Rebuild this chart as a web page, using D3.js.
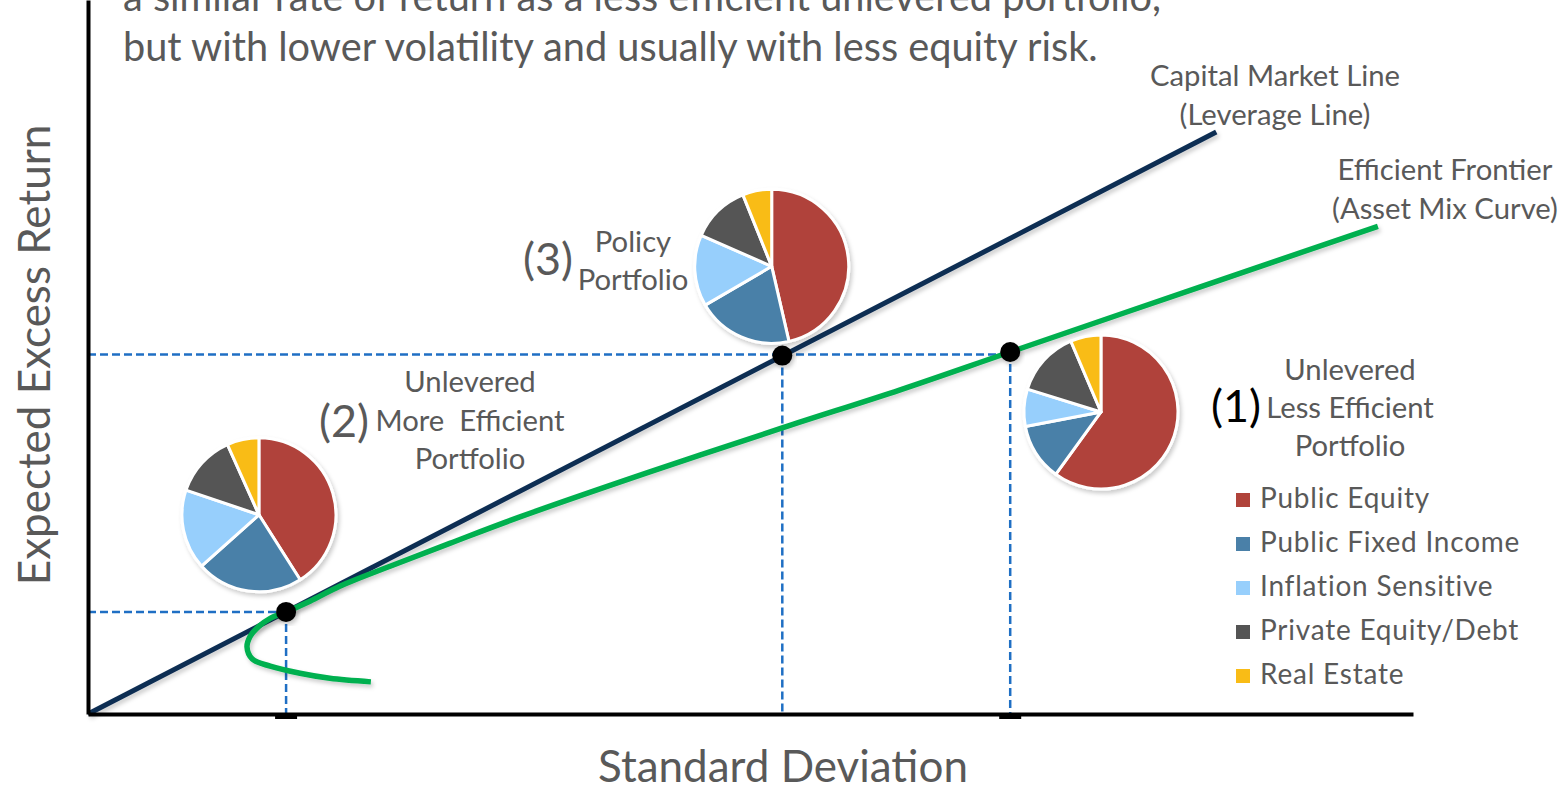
<!DOCTYPE html>
<html>
<head>
<meta charset="utf-8">
<script src="https://cdn.jsdelivr.net/npm/d3@7"></script>
<style>
	body { margin: 0; background: #fff; }
	svg { display: block; }
</style>
</head>
<body>
<svg id="chart" width="1562" height="787"></svg>
<script>
// asset classes and their colours
const categories = ["Public Equity", "Public Fixed Income", "Inflation Sensitive", "Private Equity/Debt", "Real Estate"];
const colors = ["#b0433a", "#4a80a8", "#97cffc", "#545454", "#f9bc16"];

// portfolios: (1) unlevered less efficient, (2) unlevered more efficient, (3) policy
const portfolioNames = ["(1)", "(2)", "(3)"];
const portfolioSd = [13.92, 2.99, 10.48];
const portfolioRet = [5.07, 1.43, 5.02];

// asset mix of each portfolio (%)
const mixLessEfficient = [60, 12, 7.8, 13.8, 6.4];
const mixMoreEfficient = [41, 22.4, 16.8, 13.1, 6.7];
const mixPolicy = [46.4, 20.2, 15, 12.3, 6.1];

// where each pie sits (same order as portfolios)
const pieSd = [15.29, 2.58, 10.32];
const pieRet = [4.23, 2.79, 6.27];

// efficient frontier (asset mix curve)
const frontierSd = [4.27, 3.65, 3.20, 2.75, 2.48, 2.40, 2.45, 2.57, 2.75, 2.99, 3.35, 3.80, 4.56, 5.46, 6.52, 8.48, 10.49, 12.26, 13.92, 16.78, 19.47];
const frontierRet = [0.45, 0.50, 0.57, 0.67, 0.77, 0.94, 1.09, 1.22, 1.34, 1.43, 1.58, 1.79, 2.07, 2.39, 2.76, 3.39, 4.01, 4.54, 5.07, 5.98, 6.83];

// capital market line (leverage line)
const cmlSd = [0, 17.03];
const cmlRet = [0, 8.15];

const headline = [
	"a similar rate of return as a less efficient unlevered portfolio,",
	"but with lower volatility and usually with less equity risk."
];

const FONT = "Lato, 'Open Sans', sans-serif";
const GREY = "#595959";

const svg = d3.select("#chart");

const x = d3.scaleLinear().domain([0, 20]).range([88, 1413]);
const y = d3.scaleLinear().domain([0, 10]).range([714, 0]);

// pick a font size so that a text comes out at the width it has in the picture
function fitSize(text, target, base) {
	base = base || 40;
	const t = svg.append("text").attr("font-family", FONT).attr("font-size", base).text(text);
	const w = t.node().getComputedTextLength();
	t.remove();
	return base * target / w;
}

const headSize = fitSize(headline[1], 975);
const titleSize = fitSize("Standard Deviation", 370);
const labelSize = fitSize("Capital Market Line", 250);
const numSize = fitSize("(3)", 50);
const legendSize = fitSize("Public Fixed Income", 245);

const defs = svg.append("defs");
const shadow = defs.append("filter").attr("id", "shadow")
	.attr("x", "-20%").attr("y", "-20%").attr("width", "140%").attr("height", "140%");
shadow.append("feDropShadow")
	.attr("dx", 2).attr("dy", 3).attr("stdDeviation", 2)
	.attr("flood-color", "#000").attr("flood-opacity", 0.2);

// headline text (top line is cut by the picture edge)
svg.append("g").selectAll("text")
	.data(headline).enter().append("text")
	.attr("x", 123)
	.attr("y", function (d, i) { return 11 + i * 50; })
	.attr("font-family", FONT)
	.attr("font-size", headSize)
	.attr("fill", GREY)
	.text(function (d) { return d; });

// dashed guide lines
const guides = svg.append("g")
	.attr("stroke", "#1f6fc4")
	.attr("stroke-width", 2.5)
	.attr("stroke-dasharray", "8,4")
	.attr("fill", "none");

guides.append("line")
	.attr("x1", x(0)).attr("x2", x(portfolioSd[1]))
	.attr("y1", y(portfolioRet[1])).attr("y2", y(portfolioRet[1]));
guides.append("line")
	.attr("x1", x(0)).attr("x2", x(portfolioSd[0]))
	.attr("y1", y(portfolioRet[2]) - 1).attr("y2", y(portfolioRet[2]) - 1);

guides.selectAll(".vguide")
	.data(portfolioSd).enter().append("line")
	.attr("class", "vguide")
	.attr("x1", function (d) { return x(d); })
	.attr("x2", function (d) { return x(d); })
	.attr("y1", function (d, i) { return y(portfolioRet[i]); })
	.attr("y2", y(0));

// capital market line
svg.append("line")
	.attr("x1", x(cmlSd[0])).attr("y1", y(cmlRet[0]))
	.attr("x2", x(cmlSd[1])).attr("y2", y(cmlRet[1]))
	.attr("stroke", "#0b2d52")
	.attr("stroke-width", 5)
	.attr("filter", "url(#shadow)");

// efficient frontier
const frontier = frontierSd.map(function (d, i) { return [d, frontierRet[i]]; });
svg.append("path")
	.datum(frontier)
	.attr("fill", "none")
	.attr("stroke", "#00b050")
	.attr("stroke-width", 5.5)
	.attr("stroke-linecap", "butt")
	.attr("filter", "url(#shadow)")
	.attr("d", d3.line()
		.x(function (d) { return x(d[0]); })
		.y(function (d) { return y(d[1]); })
		.curve(d3.curveCatmullRom.alpha(0.5)));

// portfolio dots
svg.append("g").selectAll("circle")
	.data(portfolioSd).enter().append("circle")
	.attr("cx", function (d) { return x(d); })
	.attr("cy", function (d, i) { return y(portfolioRet[i]); })
	.attr("r", 10)
	.attr("fill", "#000")
	.attr("filter", "url(#shadow)");

// pies
const mixes = [mixLessEfficient, mixMoreEfficient, mixPolicy];
const pie = d3.pie().sort(null);
const arc = d3.arc().innerRadius(0).outerRadius(77);

mixes.forEach(function (mix, p) {
	const g = svg.append("g")
		.attr("transform", "translate(" + x(pieSd[p]) + "," + y(pieRet[p]) + ")")
		.attr("filter", "url(#shadow)");
	g.selectAll("path")
		.data(pie(mix)).enter().append("path")
		.attr("d", arc)
		.attr("fill", function (d, i) { return colors[i]; })
		.attr("stroke", "#fff")
		.attr("stroke-width", 3)
		.attr("stroke-linejoin", "round");
});

// axes, no tick labels, just the thick lines
svg.append("g")
	.attr("transform", "translate(0," + y(0) + ")")
	.call(d3.axisBottom(x).tickValues([]).tickSizeOuter(0))
	.call(function (g) { g.select(".domain").attr("stroke", "#000").attr("stroke-width", 4); });

svg.append("g")
	.attr("transform", "translate(" + x(0) + ",0)")
	.call(d3.axisLeft(y).tickValues([]).tickSizeOuter(0))
	.call(function (g) { g.select(".domain").attr("stroke", "#000").attr("stroke-width", 4); });

// little marks under the axis for (1) and (2)
svg.append("g").selectAll("rect")
	.data([portfolioSd[0], portfolioSd[1]]).enter().append("rect")
	.attr("x", function (d) { return x(d) - 11; })
	.attr("y", y(0) + 1)
	.attr("width", 22)
	.attr("height", 4)
	.attr("fill", "#000");

// axis titles
svg.append("text")
	.attr("x", 783).attr("y", 782)
	.attr("text-anchor", "middle")
	.attr("font-family", FONT)
	.attr("font-size", titleSize)
	.attr("fill", GREY)
	.text("Standard Deviation");

svg.append("text")
	.attr("transform", "translate(50,355) rotate(-90)")
	.attr("text-anchor", "middle")
	.attr("font-family", FONT)
	.attr("font-size", titleSize)
	.attr("fill", GREY)
	.text("Expected Excess Return");

// line labels and portfolio labels
const labels = [
	{ t: "Capital Market Line", x: 1275, y: 86 },
	{ t: "(Leverage Line)", x: 1275, y: 125 },
	{ t: "Efficient Frontier", x: 1445, y: 180 },
	{ t: "(Asset Mix Curve)", x: 1445, y: 219 },
	{ t: "Policy", x: 633, y: 252 },
	{ t: "Portfolio", x: 633, y: 290 },
	{ t: "Unlevered", x: 470, y: 392 },
	{ t: "More  Efficient", x: 470, y: 431 },
	{ t: "Portfolio", x: 470, y: 469 },
	{ t: "Unlevered", x: 1350, y: 380 },
	{ t: "Less Efficient", x: 1350, y: 418 },
	{ t: "Portfolio", x: 1350, y: 456 }
];
svg.append("g").selectAll("text")
	.data(labels).enter().append("text")
	.attr("x", function (d) { return d.x; })
	.attr("y", function (d) { return d.y; })
	.attr("text-anchor", "middle")
	.attr("font-family", FONT)
	.attr("font-size", labelSize)
	.attr("fill", GREY)
	.style("white-space", "pre")
	.text(function (d) { return d.t; });

const numPos = [
	{ x: 1236, y: 422, c: "#000" },
	{ x: 344, y: 437, c: GREY },
	{ x: 548, y: 275, c: GREY }
];
svg.append("g").selectAll("text")
	.data(portfolioNames).enter().append("text")
	.attr("x", function (d, i) { return numPos[i].x; })
	.attr("y", function (d, i) { return numPos[i].y; })
	.attr("text-anchor", "middle")
	.attr("font-family", FONT)
	.attr("font-size", numSize)
	.attr("fill", function (d, i) { return numPos[i].c; })
	.text(function (d) { return d; });

// legend
const legend = svg.append("g").attr("transform", "translate(1236,500)");
const item = legend.selectAll("g")
	.data(categories).enter().append("g")
	.attr("transform", function (d, i) { return "translate(0," + i * 44 + ")"; });
item.append("rect")
	.attr("x", 0).attr("y", -7)
	.attr("width", 14).attr("height", 14)
	.attr("fill", function (d, i) { return colors[i]; });
item.append("text")
	.attr("x", 24).attr("y", 8)
	.attr("font-family", FONT)
	.attr("font-size", legendSize)
	.attr("letter-spacing", 0.8)
	.attr("fill", GREY)
	.text(function (d) { return d; });
</script>
</body>
</html>
